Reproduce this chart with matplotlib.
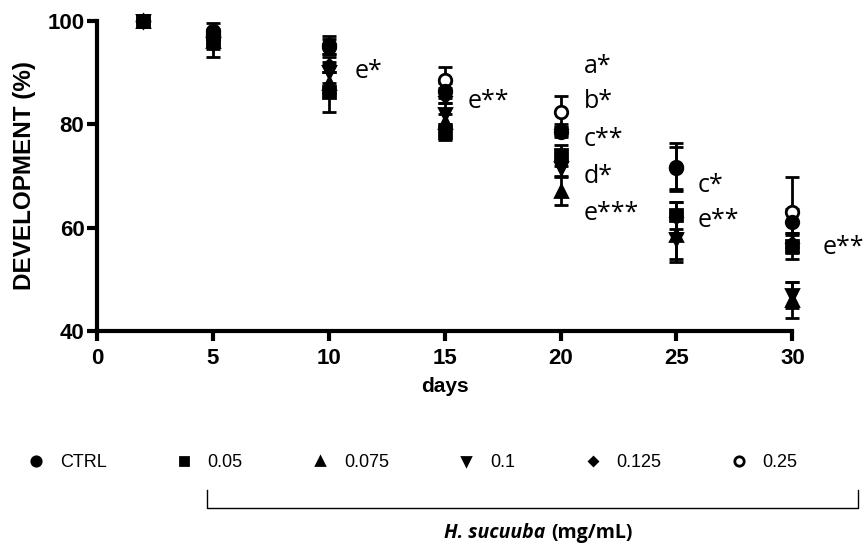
import matplotlib.pyplot as plt
from matplotlib.lines import Line2D

days = [2, 5, 10, 15, 20, 25, 30]

ctrl = [100, 98.0, 95.3, 86.5, 78.5, 71.7, 61.0]
ctrl_err = [0, 1.5, 1.8, 1.5, 1.0, 4.7, 2.5]
c005 = [100, 96.5, 86.2, 78.5, 74.0, 62.4, 56.5]
c005_err = [0, 1.0, 3.8, 1.5, 2.0, 2.6, 2.5]
c0075 = [100, 96.0, 88.0, 80.5, 67.0, 58.5, 46.0]
c0075_err = [0, 1.5, 2.0, 1.5, 2.7, 4.5, 3.5]
c01 = [100, 95.5, 90.0, 82.0, 71.5, 57.8, 47.0]
c01_err = [0, 2.5, 2.0, 2.0, 1.5, 4.5, 2.5]
c0125 = [100, 97.0, 91.5, 85.5, 79.0, 62.0, 57.0]
c0125_err = [0, 1.0, 1.5, 1.5, 1.0, 3.0, 2.0]
c025 = [100, 97.5, 95.0, 88.5, 82.4, 71.5, 63.0]
c025_err = [0, 1.0, 1.5, 2.5, 3.0, 4.0, 6.8]

# significance letters: (day, value, text)
notes = [(11.1, 90.1, 'e*'), (16.0, 84.3, 'e**'),
         (21.0, 91.1, 'a*'), (21.0, 84.3, 'b*'), (21.0, 77.0, 'c**'),
         (21.0, 69.8, 'd*'), (21.0, 62.8, 'e***'),
         (25.9, 68.2, 'c*'), (25.9, 61.4, 'e**'), (31.3, 56.2, 'e**')]

fig = plt.figure(figsize=(8.66, 5.47), dpi=100)
ax = fig.add_axes([0.112, 0.395, 0.803, 0.567])

series = [
    ('0.25', c025, c025_err, 'o', 'white', 9),
    ('0.05', c005, c005_err, 's', 'black', 8),
    ('0.075', c0075, c0075_err, '^', 'black', 8),
    ('0.1', c01, c01_err, 'v', 'black', 8),
    ('0.125', c0125, c0125_err, 'D', 'black', 6),
    ('CTRL', ctrl, ctrl_err, 'o', 'black', 9),
]
handles = {}
for name, vals, err, mk, fc, ms in series:
    ax.errorbar(days, vals, yerr=err, fmt=mk, color='black', mfc=fc, mec='black',
                mew=2, ms=ms, elinewidth=2, capsize=5, capthick=2, clip_on=False)
    handles[name] = Line2D([], [], ls='none', marker=mk, color='black', mfc=fc,
                           mec='black', mew=2, ms=ms * 0.75)

for x, y, t in notes:
    ax.text(x, y, t, fontsize=18, family='Open Sans', va='center', ha='left')

ax.set_xlim(0, 30)
ax.set_ylim(40, 100)
ax.set_xticks(range(0, 31, 5))
ax.set_yticks(range(40, 101, 20))
for s in ['top', 'right']:
    ax.spines[s].set_visible(False)
for s in ['left', 'bottom']:
    ax.spines[s].set_linewidth(3)
ax.tick_params(width=3, length=7)
ax.tick_params(axis='x', pad=5)
ax.tick_params(axis='y', pad=2)
for lab in ax.get_xticklabels() + ax.get_yticklabels():
    lab.set_fontweight('bold')
    lab.set_fontsize(16)
    lab.set_family('Liberation Sans')
ax.set_xlabel('days', fontsize=15, fontweight='bold', family='Liberation Sans', labelpad=6)
ax.set_ylabel('DEVELOPMENT (%)', fontsize=17.5, fontweight='bold', family='Liberation Sans',
              labelpad=8)

order = ['CTRL', '0.05', '0.075', '0.1', '0.125', '0.25']
fig.legend([handles[k] for k in order], order, loc='center', bbox_to_anchor=(0.476, 0.154),
           ncol=6, frameon=False, prop={'family': 'Liberation Sans', 'size': 13},
           handletextpad=0.8, columnspacing=3.8, handlelength=1.0)

# bracket under the H. sucuuba doses
fig.add_artist(Line2D([0.239, 0.239, 0.991, 0.991], [0.104, 0.071, 0.071, 0.104],
                      color='black', lw=1))
fig.text(0.630, 0.026, 'H. sucuuba', ha='right', va='center', fontsize=14,
         fontweight='bold', fontstyle='italic', family='Open Sans')
fig.text(0.637, 0.026, '(mg/mL)', ha='left', va='center', fontsize=14,
         fontweight='bold', family='Open Sans')

fig.savefig('out.png', dpi=100)
